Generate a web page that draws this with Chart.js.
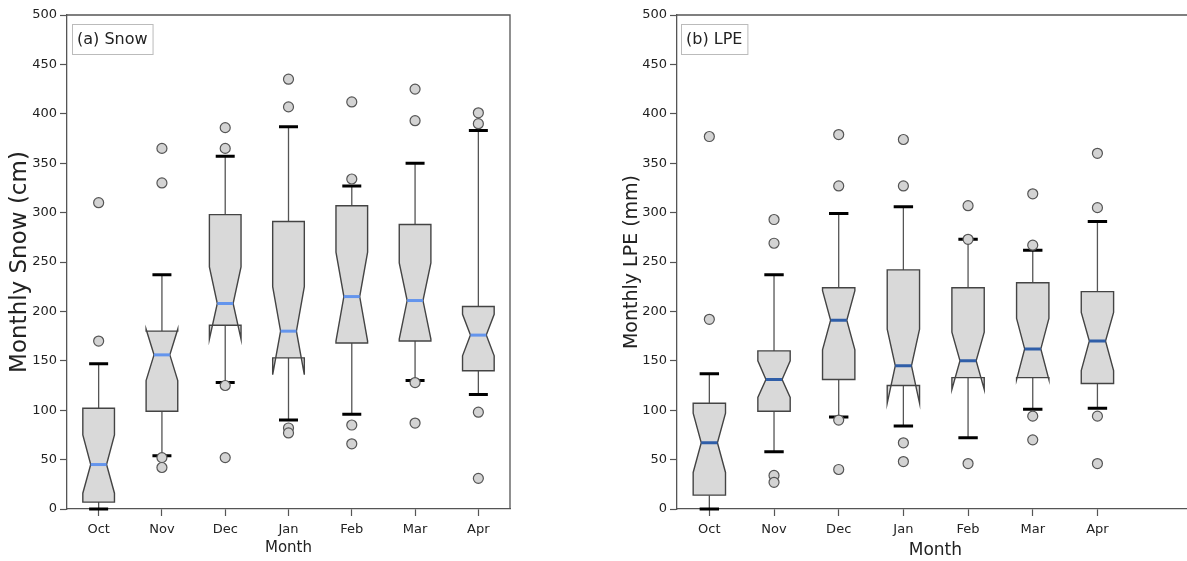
<!DOCTYPE html>
<html>
<head>
<meta charset="utf-8">
<script src="https://cdn.jsdelivr.net/npm/chart.js@4.4.1/dist/chart.umd.min.js"></script>
<style>
    html, body { margin: 0; padding: 0; background: #fff; overflow: hidden; }
    body { width: 1187px; height: 561px; position: relative; }
    canvas { position: absolute; top: 0; }
    #chart_snow { left: 0; }
    #chart_lpe { left: 600px; }
</style>
</head>
<body>
<canvas id="chart_snow" width="530" height="561"></canvas>
<canvas id="chart_lpe" width="600" height="561"></canvas>
<script>
const MONTHS = ['Oct', 'Nov', 'Dec', 'Jan', 'Feb', 'Mar', 'Apr'];
const Y_TICKS = [0, 50, 100, 150, 200, 250, 300, 350, 400, 450, 500];

// (a) Snow, cm
const snowQ1 = [7, 99, 186, 153, 168, 170, 140];
const snowQ3 = [102, 180, 298, 291, 307, 288, 205];
const snowMedian = [45, 156, 208, 180, 215, 211, 176];
const snowNotchLo = [16, 130, 172, 136, 170, 172, 155];
const snowNotchHi = [75, 182, 245, 225, 260, 249, 197];
const snowWhiskerLo = [0, 54, 128, 90, 96, 130, 116];
const snowWhiskerHi = [147, 237, 357, 387, 327, 350, 383];
const snowOutliers = [
    [170, 310],
    [52, 42, 330, 365],
    [125, 52, 365, 386],
    [82, 77, 407, 435],
    [85, 66, 334, 412],
    [128, 87, 393, 425],
    [98, 31, 390, 401]
];

// (b) LPE, mm
const lpeQ1 = [14, 99, 131, 125, 133, 133, 127];
const lpeQ3 = [107, 160, 224, 242, 224, 229, 220];
const lpeMedian = [67, 131, 191, 145, 150, 162, 170];
const lpeNotchLo = [37, 113, 161, 107, 121, 131, 140];
const lpeNotchHi = [97, 150, 221, 182, 179, 193, 199];
const lpeWhiskerLo = [0, 58, 93, 84, 72, 101, 102];
const lpeWhiskerHi = [137, 237, 299, 306, 273, 262, 291];
const lpeOutliers = [
    [192, 377],
    [34, 27, 269, 293],
    [90, 40, 327, 379],
    [67, 48, 327, 374],
    [46, 273, 307],
    [94, 70, 267, 319],
    [94, 46, 305, 360]
];

const FONT = "'DejaVu Sans', 'Liberation Sans', sans-serif";
const AXIS_COLOR = '#555';

// notched box plot drawn from the scales
const boxPlugin = {
    id: 'notchedBoxes',
    beforeDatasetsDraw(chart) {
        const b = chart.options.plugins.notchedBoxes;
        const xs = chart.scales.x, ys = chart.scales.y;
        const ctx = chart.ctx;
        ctx.save();
        ctx.beginPath();
        ctx.rect(chart.chartArea.left, chart.chartArea.top - 5,
            chart.chartArea.right - chart.chartArea.left, chart.chartArea.bottom - chart.chartArea.top + 10);
        ctx.clip();
        for (let i = 0; i < b.q1.length; i++) {
            const x = xs.getPixelForValue(i);
            const hw = xs.getPixelForValue(i + 0.25) - x;
            const cw = xs.getPixelForValue(i + 0.15) - x;
            const yq1 = ys.getPixelForValue(b.q1[i]);
            const yq3 = ys.getPixelForValue(b.q3[i]);
            const ym = ys.getPixelForValue(b.median[i]);
            const ynl = ys.getPixelForValue(b.notchLo[i]);
            const ynh = ys.getPixelForValue(b.notchHi[i]);
            const ywl = ys.getPixelForValue(b.whiskerLo[i]);
            const ywh = ys.getPixelForValue(b.whiskerHi[i]);

            // whiskers
            ctx.strokeStyle = '#555';
            ctx.lineWidth = 1.3;
            ctx.beginPath();
            ctx.moveTo(x, yq1); ctx.lineTo(x, ywl);
            ctx.moveTo(x, yq3); ctx.lineTo(x, ywh);
            ctx.stroke();

            // box with notch
            ctx.beginPath();
            ctx.moveTo(x - hw, yq1);
            ctx.lineTo(x - hw, ynl);
            ctx.lineTo(x - hw / 2, ym);
            ctx.lineTo(x - hw, ynh);
            ctx.lineTo(x - hw, yq3);
            ctx.lineTo(x + hw, yq3);
            ctx.lineTo(x + hw, ynh);
            ctx.lineTo(x + hw / 2, ym);
            ctx.lineTo(x + hw, ynl);
            ctx.lineTo(x + hw, yq1);
            ctx.closePath();
            ctx.fillStyle = '#d9d9d9';
            ctx.fill();
            ctx.strokeStyle = '#444';
            ctx.lineWidth = 1.4;
            ctx.stroke();

            // median
            ctx.strokeStyle = b.medianColor;
            ctx.lineWidth = 3;
            ctx.beginPath();
            ctx.moveTo(x - hw / 2, ym); ctx.lineTo(x + hw / 2, ym);
            ctx.stroke();

            // caps
            ctx.strokeStyle = '#000';
            ctx.lineWidth = 3;
            ctx.beginPath();
            ctx.moveTo(x - cw, ywl); ctx.lineTo(x + cw, ywl);
            ctx.moveTo(x - cw, ywh); ctx.lineTo(x + cw, ywh);
            ctx.stroke();
        }
        ctx.restore();
    },
    afterDraw(chart) {
        const b = chart.options.plugins.notchedBoxes;
        const a = chart.chartArea;
        const ctx = chart.ctx;
        ctx.save();
        // frame top / right
        ctx.strokeStyle = AXIS_COLOR;
        ctx.lineWidth = 1.3;
        ctx.beginPath();
        ctx.moveTo(a.left, a.top);
        ctx.lineTo(a.right, a.top);
        if (b.rightFrame) ctx.lineTo(a.right, a.bottom);
        ctx.stroke();
        // panel label
        ctx.font = '16px ' + FONT;
        const tw = ctx.measureText(b.label).width;
        const bx = a.left + b.labelOffset, by = a.top + 9;
        ctx.fillStyle = '#fff';
        ctx.fillRect(bx, by, tw + 10, 30);
        ctx.strokeStyle = '#bbb';
        ctx.lineWidth = 1;
        ctx.strokeRect(bx + 0.5, by + 0.5, tw + 10, 30);
        ctx.fillStyle = '#222';
        ctx.textBaseline = 'middle';
        ctx.fillText(b.label, bx + 5, by + 16);
        ctx.restore();
    }
};

function outlierPoints(outliers) {
    const pts = [];
    outliers.forEach(function (vals, i) {
        vals.forEach(function (v) { pts.push({ x: i, y: v }); });
    });
    return pts;
}

function makeChart(id, opts) {
    return new Chart(document.getElementById(id), {
        type: 'scatter',
        data: {
            datasets: [{
                label: 'outliers',
                data: outlierPoints(opts.outliers),
                pointRadius: 5,
                pointHoverRadius: 5,
                backgroundColor: '#d3d3d3',
                borderColor: '#555',
                borderWidth: 1.2
            }]
        },
        options: {
            responsive: false,
            animation: false,
            devicePixelRatio: 1,
            layout: { padding: { left: 0, top: 15, right: opts.padRight, bottom: 0 } },
            plugins: {
                legend: { display: false },
                tooltip: { enabled: false },
                notchedBoxes: opts.boxes
            },
            scales: {
                x: {
                    type: 'linear',
                    min: -0.5,
                    max: opts.xMax,
                    afterBuildTicks: function (scale) {
                        scale.ticks = MONTHS.map(function (m, i) { return { value: i }; });
                    },
                    afterFit: function (scale) { scale.height = 52; },
                    ticks: {
                        callback: function (v) { return MONTHS[v]; },
                        color: '#222',
                        font: { family: FONT, size: 13 },
                        padding: 6,
                        maxRotation: 0
                    },
                    grid: { drawOnChartArea: false, drawTicks: true, tickLength: 7, color: AXIS_COLOR, tickWidth: 1.2 },
                    border: { display: true, color: AXIS_COLOR, width: 1.3 },
                    title: {
                        display: true,
                        text: 'Month',
                        color: '#222',
                        font: { family: FONT, size: opts.xTitleSize },
                        padding: { top: 0, bottom: opts.xTitlePad }
                    }
                },
                y: {
                    type: 'linear',
                    min: 0,
                    max: 500,
                    afterBuildTicks: function (scale) {
                        scale.ticks = Y_TICKS.map(function (v) { return { value: v }; });
                    },
                    afterFit: function (scale) { scale.width = opts.yWidth; },
                    ticks: {
                        color: '#222',
                        font: { family: FONT, size: 13 },
                        padding: 3
                    },
                    grid: { drawOnChartArea: false, drawTicks: true, tickLength: 7, color: AXIS_COLOR, tickWidth: 1.2 },
                    border: { display: true, color: AXIS_COLOR, width: 1.3 },
                    title: {
                        display: true,
                        text: opts.yTitle,
                        color: '#222',
                        font: { family: FONT, size: opts.yTitleSize },
                        padding: { top: opts.yTitlePad, bottom: 0 }
                    }
                }
            }
        },
        plugins: [boxPlugin]
    });
}

makeChart('chart_snow', {
    outliers: snowOutliers,
    padRight: 20,
    xMax: 6.5,
    yWidth: 67,
    yTitle: 'Monthly Snow (cm)',
    yTitleSize: 23,
    yTitlePad: 6,
    xTitleSize: 15,
    xTitlePad: 4,
    boxes: {
        q1: snowQ1, q3: snowQ3, median: snowMedian,
        notchLo: snowNotchLo, notchHi: snowNotchHi,
        whiskerLo: snowWhiskerLo, whiskerHi: snowWhiskerHi,
        medianColor: '#6495ed',
        label: '(a) Snow',
        labelOffset: 5,
        rightFrame: true
    }
});

makeChart('chart_lpe', {
    outliers: lpeOutliers,
    padRight: 0,
    xMax: 7.49,
    yWidth: 77,
    yTitle: 'Monthly LPE (mm)',
    yTitleSize: 19,
    yTitlePad: 21,
    xTitleSize: 17,
    xTitlePad: 0,
    boxes: {
        q1: lpeQ1, q3: lpeQ3, median: lpeMedian,
        notchLo: lpeNotchLo, notchHi: lpeNotchHi,
        whiskerLo: lpeWhiskerLo, whiskerHi: lpeWhiskerHi,
        medianColor: '#2f5ea8',
        label: '(b) LPE',
        labelOffset: 4,
        rightFrame: false
    }
});
</script>
</body>
</html>
